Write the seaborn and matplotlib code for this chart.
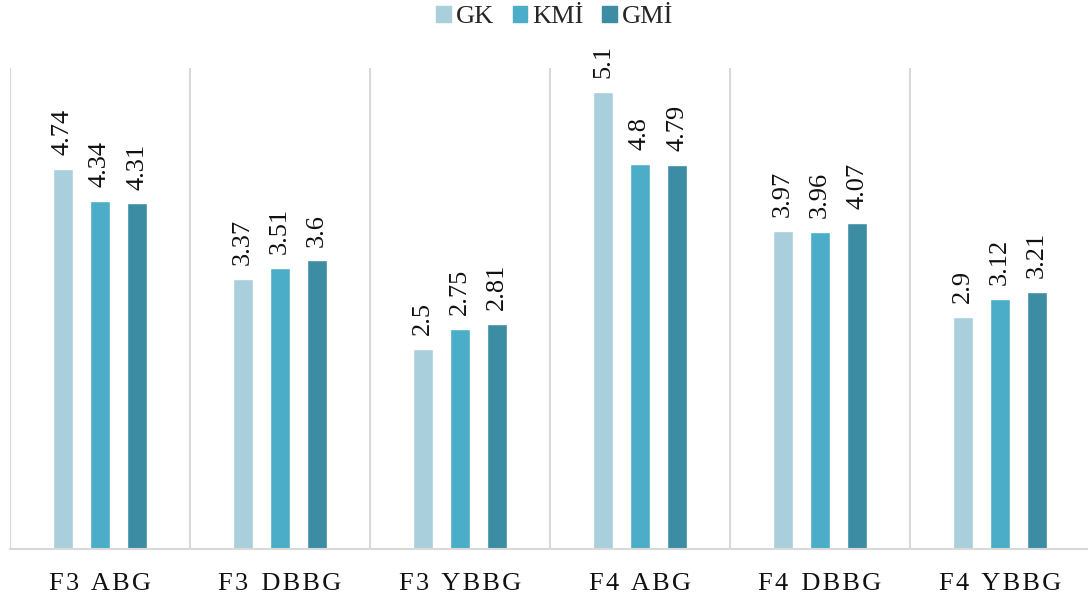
import numpy as np
import pandas as pd
import matplotlib
matplotlib.use("Agg")
import matplotlib.pyplot as plt
import seaborn as sns

# categories and series (bar heights, labels as printed)
categories = ["F3 ABG", "F3 DBBG", "F3 YBBG", "F4 ABG", "F4 DBBG", "F4 YBBG"]
series = ["GK", "KMİ", "GMİ"]
gk = [4.74, 3.37, 2.5, 5.7, 3.97, 2.9]
kmi = [4.34, 3.51, 2.75, 4.8, 3.96, 3.12]
gmi = [4.31, 3.6, 2.81, 4.79, 4.07, 3.21]
gk_labels = ["4.74", "3.37", "2.5", "5.1", "3.97", "2.9"]
kmi_labels = ["4.34", "3.51", "2.75", "4.8", "3.96", "3.12"]
gmi_labels = ["4.31", "3.6", "2.81", "4.79", "4.07", "3.21"]
tick_labels = ["F\u200a3  A\u200aB\u200aG", "F\u200a3  D\u200aB\u200aB\u200aG", "F\u200a3  Y\u200aB\u200aB\u200aG",
               "F\u200a4  A\u200aB\u200aG", "F\u200a4  D\u200aB\u200aB\u200aG", "F\u200a4  Y\u200aB\u200aB\u200aG"]
colors = ["#a9cfdd", "#4badc7", "#3c8ca3"]

df = pd.DataFrame({
    "cat": categories * 3,
    "series": sum([[s] * len(categories) for s in series], []),
    "value": gk + kmi + gmi,
})

sns.set_theme(style="white")
fam = ["Liberation Serif", "DejaVu Serif"]
plt.rcParams["font.family"] = fam

fig = plt.figure(figsize=(10.88, 5.98), dpi=100)
ax = fig.add_axes([10 / 1088, 49 / 598, 1080 / 1088, 481 / 598])

sns.barplot(data=df, x="cat", y="value", hue="series", palette=colors,
            width=0.617, gap=0.46, legend=False, ax=ax, saturation=1)

for cont, labs in zip(ax.containers, [gk_labels, kmi_labels, gmi_labels]):
    ax.bar_label(cont, labels=labs, rotation=90, padding=10, fontsize=19,
                 color="#111111", family=fam)

ax.set_ylim(0, 6)
ax.set_xlim(-0.5, 5.5)
ax.set_yticks([])
ax.set_ylabel("")
ax.set_xlabel("")
ax.set_xticks(range(len(categories)))
ax.set_xticklabels(tick_labels, fontsize=19, color="#111111", family=fam)
ax.set_xticks(np.arange(-0.5, 6, 1), minor=True)
ax.tick_params(axis="x", which="both", length=0, pad=17)
ax.grid(False)
ax.grid(which="minor", axis="x", color="#d9d9d9", lw=1.5)
for s in ["top", "right", "left"]:
    ax.spines[s].set_visible(False)
ax.spines["bottom"].set_color("#d9d9d9")
ax.spines["bottom"].set_linewidth(1.5)

handles = [plt.Rectangle((0, 0), 1, 1, color=c) for c in colors]
fig.legend(handles, series, loc="upper center", bbox_to_anchor=(555 / 1088, 1.03),
           ncol=3, frameon=False, handlelength=0.55, handleheight=0.55,
           handletextpad=0.2, columnspacing=0.7,
           prop={"family": fam, "size": 19})

fig.savefig("out.png", dpi=100)
